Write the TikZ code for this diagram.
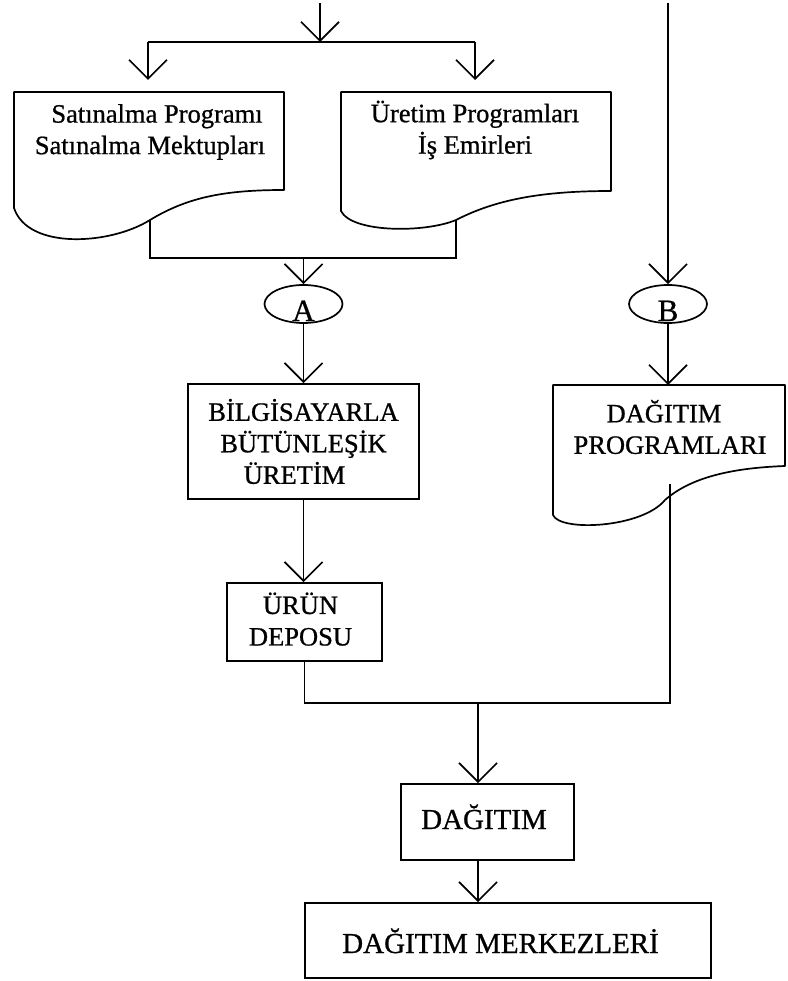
\documentclass[tikz,border=0pt]{standalone}
\usepackage{fontspec}
\setmainfont{Liberation Serif}[RawFeature={embolden=0.8}]
\usetikzlibrary{arrows.meta,shapes.geometric}
\begin{document}
\begin{tikzpicture}[x=1pt,y=-1pt,line width=1.7pt,
  arr/.style={-{Straight Barb[length=19pt,width=38pt]}},
  lbl/.style={font=\fontsize{26.5}{31.5}\selectfont, align=center, inner sep=0pt},
  biglbl/.style={font=\fontsize{29}{31.5}\selectfont, align=center, inner sep=0pt},
  boxnode/.style={draw, rectangle, lbl},
  bigbox/.style={draw, rectangle, biglbl},
  conn/.style={draw, ellipse, inner sep=0pt, minimum width=78pt, minimum height=38pt},
  connlbl/.style={font=\fontsize{31}{31}\selectfont, inner sep=0pt, anchor=base},
  docshape/.style={line join=round}]
\useasboundingbox (0,0) rectangle (787,981);

% top feed and split
\coordinate (topin) at (320,3);
\coordinate (split) at (320,42);
\coordinate (splitL) at (148,42);
\coordinate (splitR) at (475,42);
\coordinate (satTop) at (148,92);
\coordinate (ureTop) at (475,92);
\draw[arr] (topin) -- (split);
\draw (splitL) -- (splitR);
\draw[arr, shorten >=12pt] (splitL) -- (satTop);
\draw[arr, shorten >=12pt] (splitR) -- (ureTop);

% left document
\coordinate (satOut) at (150,220);
\draw[docshape] (14,92) -- (284,92) -- (284,190)
  .. controls (225,190) and (188,197) .. (satOut)
  .. controls (110,245) and (28,250) .. (14,208) -- cycle;
\node[lbl] (sat) at (150,132) {\hspace*{14pt}Satınalma Programı\\Satınalma Mektupları};

% right document
\coordinate (ureOut) at (456,220);
\draw[docshape] (341,92) -- (611,92) -- (611,191)
  .. controls (540,191) and (495,200) .. (ureOut)
  .. controls (425,233) and (352,233) .. (341,211) -- cycle;
\node[lbl] (ure) at (475,130) {Üretim Programları\\İş Emirleri};

% join to A
\coordinate (joinL) at (150,258);
\coordinate (joinR) at (456,258);
\coordinate (joinM) at (303.5,258);
\draw (satOut) -- (joinL) -- (joinR) -- (ureOut);

\node[conn] (A) at (303.5,304) {};
\node[connlbl] (Alab) at (303.5,321) {A};
\draw[arr] (joinM) -- (A.north);

% B branch
\coordinate (Bin) at (668,3);
\node[conn] (B) at (668,304) {};
\node[connlbl] (Blab) at (668,321) {B};
\draw[arr] (Bin) -- (B.north);

% BILGISAYARLA box
\node[boxnode, minimum width=231pt, minimum height=115pt] (bil) at (303.5,441.5)
  {BİLGİSAYARLA\\BÜTÜNLEŞİK\hspace*{14pt}\\ÜRETİM\hspace*{18pt}};
\draw[arr] (A.south) -- (bil.north);

% DAGITIM PROGRAMLARI document
\coordinate (dprTop) at (668,385);
\coordinate (dprOut) at (670,484);
\draw[docshape] (553,385) -- (785,385) -- (785,466)
  .. controls (730,468) and (690,478) .. (665,500)
  .. controls (642,528) and (560,532) .. (553,515) -- cycle;
\node[lbl] (dpr) at (670,427) {DAĞITIM\hspace*{12pt}\\PROGRAMLARI};
\draw[arr] (B.south) -- (dprTop);

% URUN DEPOSU box
\node[boxnode, minimum width=155pt, minimum height=78pt] (urun) at (304.5,622)
  {ÜRÜN\hspace*{8pt}\\DEPOSU\hspace*{8pt}\rule[-6pt]{0pt}{6pt}};
\draw[arr] (bil.south) -- (bil.south |- urun.north);

% merge bar
\coordinate (barL) at (304.5,703);
\coordinate (barR) at (670,703);
\coordinate (barM) at (478,703);
\draw (urun.south) -- (barL) -- (barR) -- (dprOut);

% DAGITIM
\node[bigbox, minimum width=173pt, minimum height=76pt, text height=21pt, text depth=7pt] (dag) at (487.5,822)
  {DAĞITIM\hspace*{7pt}};
\draw[arr] (barM) -- (barM |- dag.north);

% DAGITIM MERKEZLERI
\node[bigbox, minimum width=406pt, minimum height=75pt, text height=25pt, text depth=0pt] (mer) at (508,940.5)
  {DAĞITIM MERKEZLERİ\hspace*{15pt}};
\draw[arr] (barM |- dag.south) -- (barM |- mer.north);
\end{tikzpicture}
\end{document}
